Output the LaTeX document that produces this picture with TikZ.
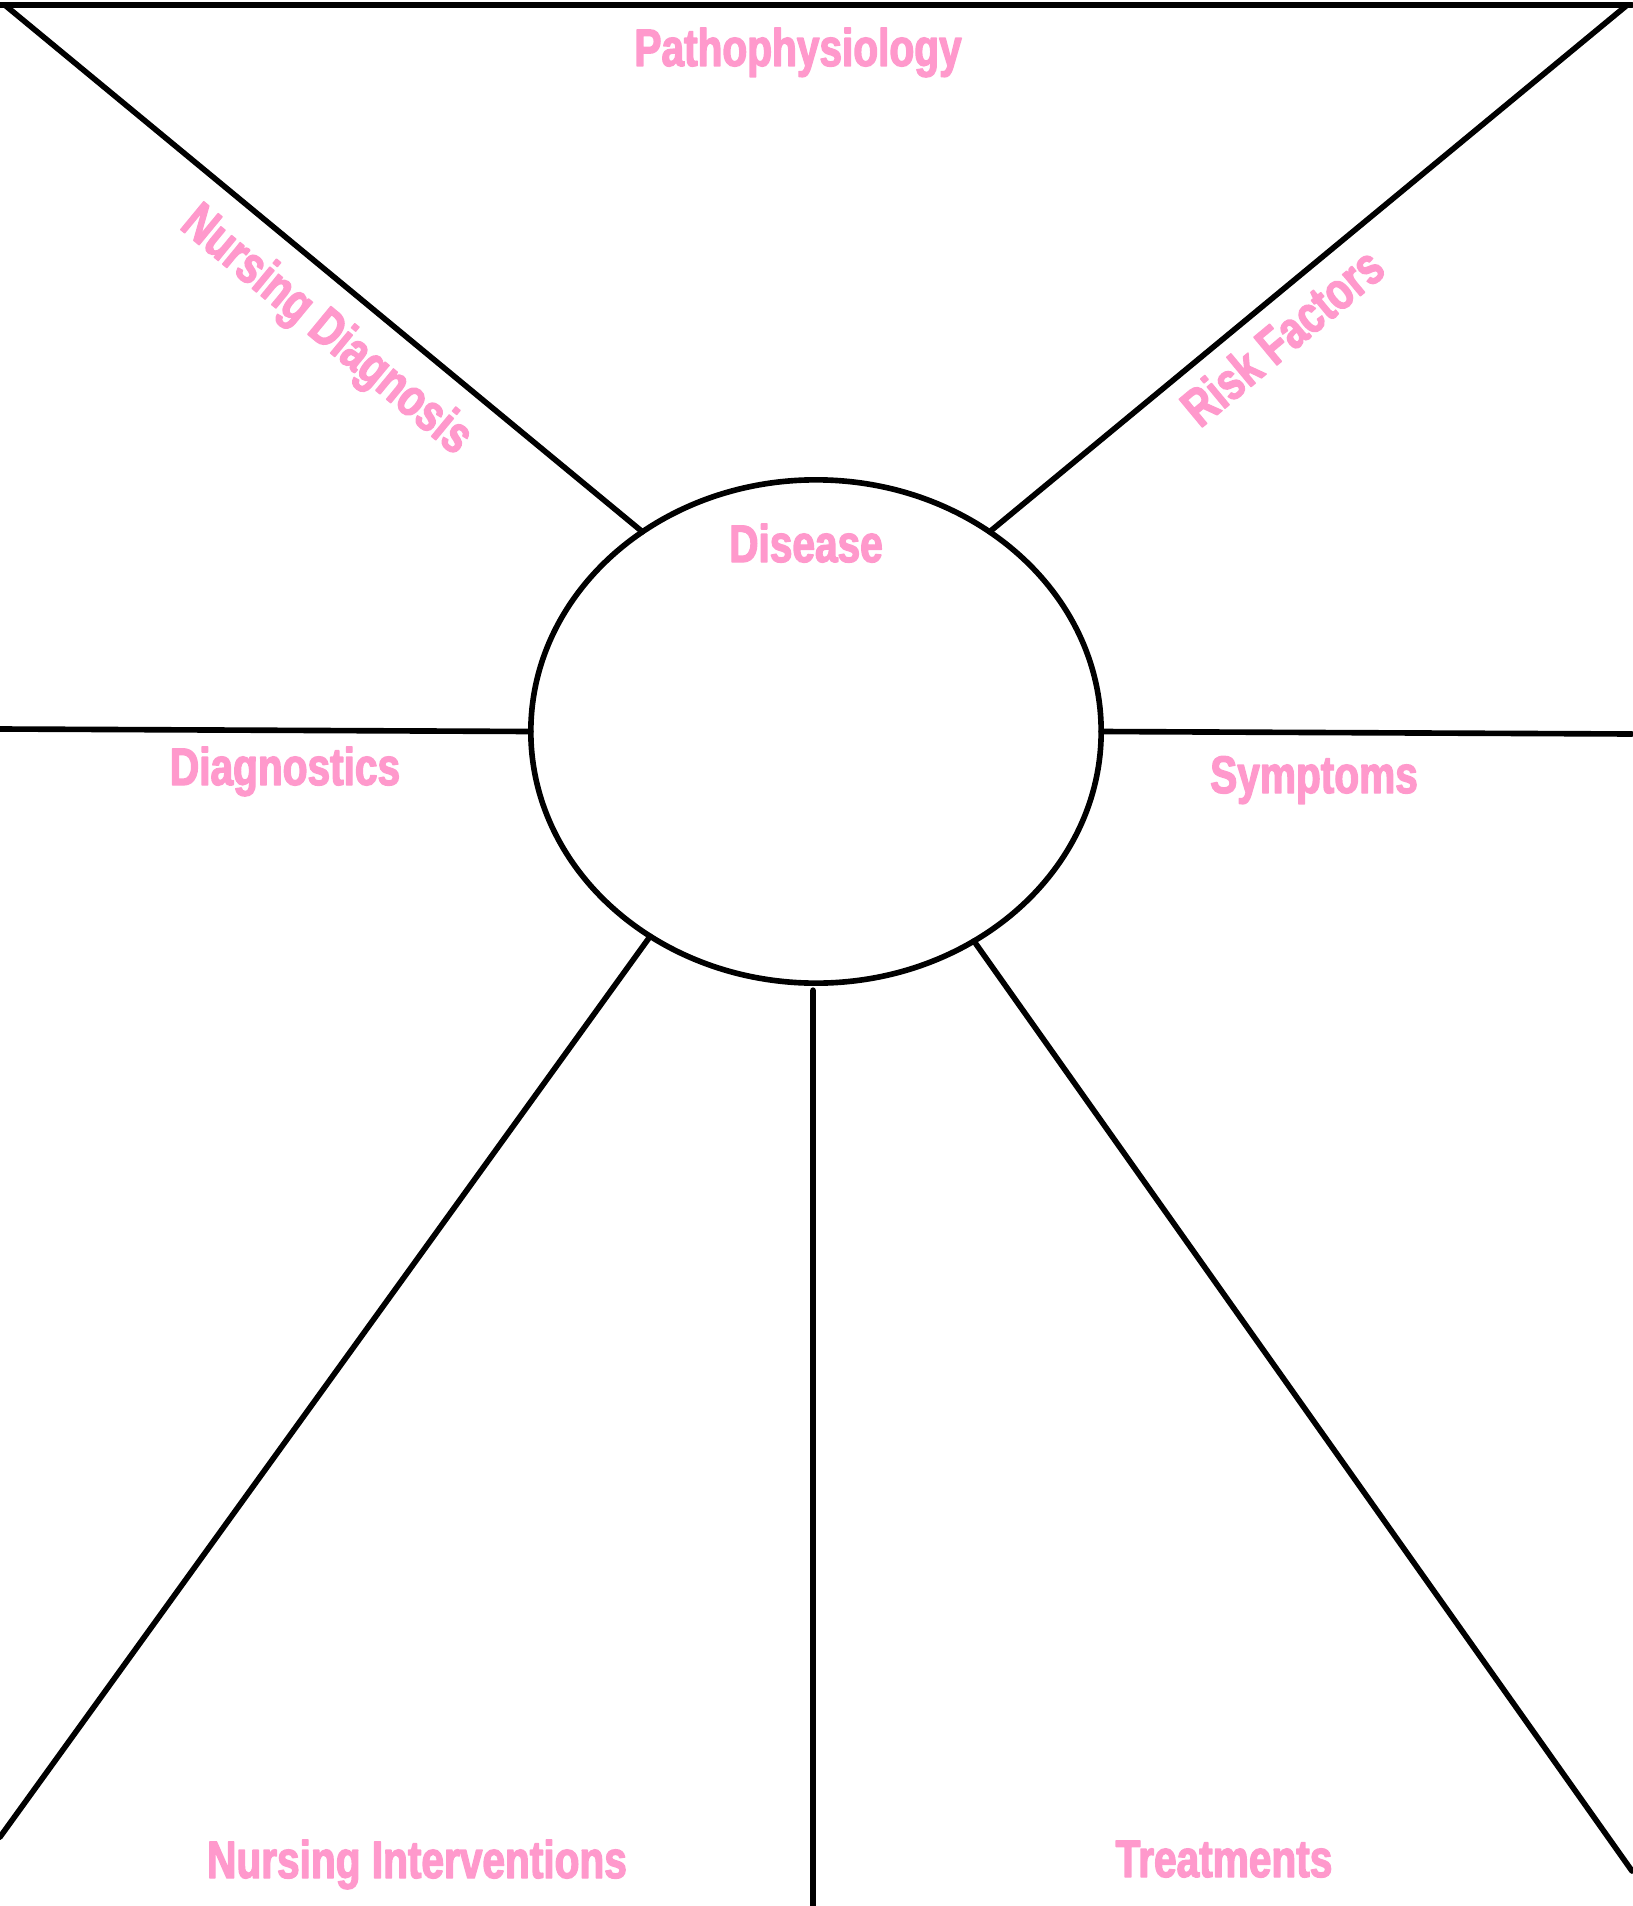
\documentclass[tikz,border=0pt]{standalone}
\usepackage{fontspec}
\usetikzlibrary{shapes.geometric}
\newfontfamily\tagfont{Liberation Sans}[FakeStretch=0.77,FakeBold=2.5]
\definecolor{tagpink}{HTML}{FF99CC}
\begin{document}
\begin{tikzpicture}[x=0.01cm,y=-0.01cm,line cap=round,line join=round,
    rule/.style={line width=1.6pt},
    tag/.style={font=\tagfont\bfseries\fontsize{15}{18}\selectfont,text=tagpink,anchor=base,inner sep=0pt}]
  \useasboundingbox (0,0) rectangle (1632,1906);
  \coordinate (tl) at (0,5);
  \coordinate (tr) at (1632,5);
  \coordinate (tlc) at (6,6);
  \coordinate (trc) at (1626,6);
  \coordinate (lft) at (0,729);
  \coordinate (rgt) at (1632,734);
  \coordinate (bl) at (0,1837);
  \coordinate (br) at (1632,1871);
  \coordinate (bot) at (813,1906);
  \node[draw,ellipse,line width=1.6pt,minimum width=5.7cm,minimum height=5.03cm,inner sep=0pt,outer sep=0pt] (disease) at (816,731.5) {};
  \draw[rule] (tl) -- (tr);
  \draw[rule] (tlc) -- (disease.131);
  \draw[rule] (trc) -- (disease.49);
  \draw[rule] (lft) -- (disease.west);
  \draw[rule] (disease.east) -- (rgt);
  \draw[rule] (disease.231) -- (bl);
  \draw[rule] ([xshift=-0.03cm,yshift=-0.07cm]disease.south) -- (bot);
  \draw[rule] (disease.307) -- (br);
  \node[tag] (patho) at (798,66) {Pathophysiology};
  \node[tag] (dis) at (806,562) {Disease};
  \node[tag,rotate=-39.5] (nursdiag) at (317,342) {Nursing Diagnosis};
  \node[tag,rotate=39.7] (risk) at (1294,351) {Risk Factors};
  \node[tag] (diag) at (285,785) {Diagnostics};
  \node[tag] (sympt) at (1314,793) {Symptoms};
  \node[tag] (nursint) at (417,1878) {Nursing Interventions};
  \node[tag] (treat) at (1224,1877) {Treatments};
\end{tikzpicture}
\end{document}
